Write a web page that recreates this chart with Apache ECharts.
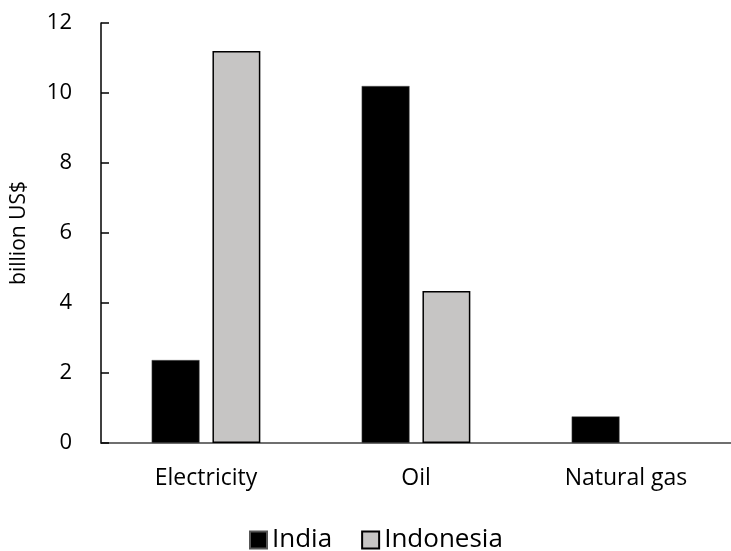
<!DOCTYPE html>
<html><head><meta charset="utf-8">
<script src="https://cdn.jsdelivr.net/npm/echarts@6/dist/echarts.min.js"></script>
<style>html,body{margin:0;padding:0;background:#fff}#c{width:731px;height:551px}</style>
</head><body><div id="c"></div>
<script>
const categories = ["Electricity", "Oil", "Natural gas"];
const india = [2.37, 10.2, 0.76];
const indonesia = [11.2, 4.34, null];
const yTicks = [0, 2, 4, 6, 8, 10, 12];
const FONT = "'Open Sans', 'DejaVu Sans', sans-serif";
const chart = echarts.init(document.getElementById('c'));
chart.setOption({
  animation: false,
  textStyle: {fontFamily: FONT, color: '#000'},
  grid: {left: 101, right: 0, top: 23, bottom: 108},
  legend: {
    top: 522, left: 244, itemWidth: 17, itemHeight: 17, itemGap: 29,
    textStyle: {fontSize: 26, color: '#000', fontFamily: FONT},
    data: [{name: 'India', icon: 'rect'}, {name: 'Indonesia', icon: 'rect'}]
  },
  xAxis: {
    type: 'category', data: categories,
    axisLine: {lineStyle: {color: '#404040', width: 1.5}},
    axisTick: {show: false},
    axisLabel: {fontSize: 23, color: '#000', margin: 24, fontFamily: FONT}
  },
  yAxis: {
    type: 'value', min: yTicks[0], max: yTicks[yTicks.length - 1], interval: 2,
    name: 'billion US$', nameLocation: 'middle', nameGap: 71, nameRotate: 90,
    nameTextStyle: {fontSize: 21, color: '#000', fontFamily: FONT},
    axisLine: {show: true, lineStyle: {color: '#000', width: 1.5}},
    axisTick: {show: true, inside: true, length: 8, lineStyle: {color: '#000', width: 1.5}},
    splitLine: {show: false},
    axisLabel: {fontSize: 22, color: '#000', margin: 29, fontFamily: FONT}
  },
  series: [
    {name: 'India', type: 'bar', data: india, barWidth: '22.8%', barGap: '27%',
     itemStyle: {color: '#000', borderColor: '#555', borderWidth: 0.5}},
    {name: 'Indonesia', type: 'bar', data: indonesia, barWidth: '22.8%',
     itemStyle: {color: '#c6c5c4', borderColor: '#000', borderWidth: 1.5}}
  ]
});
</script></body></html>
